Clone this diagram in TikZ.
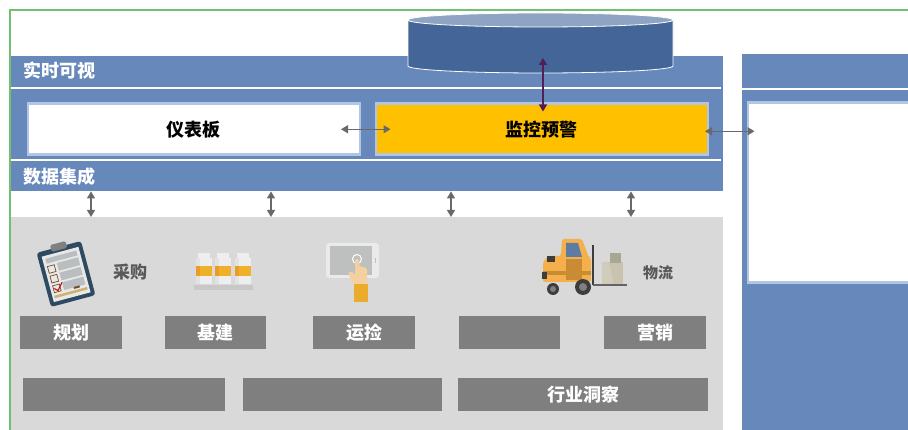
\documentclass[tikz,border=0pt]{standalone}
\usepackage{fontspec}
\newfontfamily\cjk{Noto Sans CJK SC}
\usetikzlibrary{arrows.meta}

\definecolor{frameg}{RGB}{112,192,112}
\definecolor{panelb}{RGB}{103,136,187}
\definecolor{edgeb}{RGB}{178,198,228}
\definecolor{dbtop}{RGB}{143,163,194}
\definecolor{dbbody}{RGB}{67,101,151}
\definecolor{warn}{RGB}{255,192,0}
\definecolor{appbg}{RGB}{217,217,217}
\definecolor{tagg}{RGB}{127,127,127}
\definecolor{arrowg}{RGB}{105,105,105}
\definecolor{dbarrow}{RGB}{82,30,84}
\definecolor{noteg}{RGB}{89,89,89}
% icon colours
\definecolor{clipnavy}{RGB}{46,74,98}
\definecolor{paper}{RGB}{232,232,232}
\definecolor{rowg}{RGB}{186,190,192}
\definecolor{strip}{RGB}{205,178,110}
\definecolor{milk}{RGB}{238,238,238}
\definecolor{milkshade}{RGB}{226,226,226}
\definecolor{band}{RGB}{240,176,42}
\definecolor{bandshade}{RGB}{232,158,36}
\definecolor{shelf}{RGB}{200,200,200}
\definecolor{screen}{RGB}{190,192,192}
\definecolor{skin}{RGB}{244,208,160}
\definecolor{sleeve}{RGB}{236,172,43}
\definecolor{lift}{RGB}{246,176,75}
\definecolor{liftdark}{RGB}{201,140,52}
\definecolor{cabwin}{RGB}{92,124,163}
\definecolor{tire}{RGB}{61,61,61}
\definecolor{crate}{RGB}{200,195,174}

\tikzset{
  cjkbold/.style={font=\cjk\bfseries\fontsize{18}{22}\selectfont},
  card/.style={cjkbold, draw=edgeb, line width=2.5pt, inner sep=0pt, anchor=north west},
  tagbox/.style={cjkbold, fill=tagg, text=white, inner sep=0pt, minimum height=33pt, anchor=north west},
  bartitle/.style={cjkbold, text=white, anchor=west},
  note/.style={font=\cjk\bfseries\fontsize{17}{20}\selectfont, text=noteg},
  biarrow/.style={arrowg, line width=1.3pt, {Triangle[width=8pt,length=7pt]}-{Triangle[width=8pt,length=7pt]}},
}

\begin{document}
\begin{tikzpicture}[x=1pt,y=-1pt]
\clip (0,0) rectangle (908,430);
\fill[white] (0,0) rectangle (908,430);

% layers
\node[fill=panelb, inner sep=0pt, anchor=north west, minimum width=713pt, minimum height=135pt] (vis) at (10,56) {};
\node[fill=appbg, inner sep=0pt, anchor=north west, minimum width=713pt, minimum height=230pt] (apps) at (10,217) {};
\node[fill=panelb, inner sep=0pt, anchor=north west, minimum width=180pt, minimum height=390pt] (side) at (742,54) {};
\draw[white, line width=1.5pt] (10,88) -- (721,88);
\draw[white, line width=1.5pt] (10,160) -- (721,160);
\draw[white, line width=1.5pt] (742,89) -- (920,89);

\node[bartitle] (rtv) at (20,71) {实时可视};
\node[bartitle] (integ) at (20,177) {数据集成};

\node[card, fill=white, minimum width=332pt, minimum height=51pt] (dash) at (26.5,102.5) {仪表板};
\node[card, fill=warn, minimum width=332pt, minimum height=51pt] (warnbox) at (374.5,102.5) {监控预警};
\node[card, fill=white, minimum width=180pt, minimum height=180pt] (sidebox) at (746.5,101.5) {};

% database
\filldraw[fill=dbbody, draw=white, line width=0.8pt] (408,20) -- (408,66)
  arc[start angle=180, end angle=360, x radius=132.5pt, y radius=7pt] -- (673,20) -- cycle;
\filldraw[fill=dbtop, draw=white, line width=0.8pt] (540.5,20) ellipse[x radius=132.5pt, y radius=7pt];
\coordinate (dbport) at (543,58);

% links
\draw[biarrow, dbarrow] (dbport) -- ([yshift=-9pt]dbport |- warnbox.north);
\draw[biarrow] ([xshift=-20pt]dash.east) -- ([xshift=16pt]warnbox.west);
\draw[biarrow] ([xshift=-4pt,yshift=-2pt]warnbox.east) -- ([xshift=8pt,yshift=-2pt]warnbox.east -| sidebox.west);
\foreach \x in {91,271,451,631}
  \draw[biarrow] (\x,0 |- vis.south) -- (\x,0 |- apps.north);

% business tags
\node[tagbox, minimum width=102pt] (plan) at (20,316) {规划};
\node[tagbox, minimum width=101pt] (build) at (165,316) {基建};
\node[tagbox, minimum width=102pt] (ops) at (313,316) {运捡};
\node[tagbox, minimum width=101pt] (blank) at (459,316) {};
\node[tagbox, minimum width=102pt] (market) at (604,316) {营销};
\node[tagbox, minimum width=202pt] (wideA) at (23,378) {};
\node[tagbox, minimum width=199pt] (wideB) at (243,378) {};
\node[tagbox, minimum width=250pt] (insight) at (458,378) {行业洞察};

\node[note] (buy) at (130,272) {采购};
\node[note, font=\cjk\bfseries\fontsize{15}{18}\selectfont] (logi) at (658,273) {物流};

% clipboard
\begin{scope}[shift={(66,274)}, rotate=15]
  \fill[clipnavy, rounded corners=3pt] (-23,-28) rectangle (23,28);
  \fill[paper] (-19,-23) rectangle (19,24);
  \fill[gray, rounded corners=1.5pt] (-8,-32) rectangle (8,-25);
  \fill[rowg] (-16,-20) rectangle (16,-15);
  \foreach \y in {-12,-2,8} {
    \draw[brown!60!black, line width=0.7pt] (-16,\y) rectangle (-9,\y+7);
    \fill[rowg] (-6,\y-1) rectangle (16,\y+7);
  }
  \draw[red!80!black, line width=1pt] (-15,11) -- (-12,14) -- (-6,7);
  \fill[strip] (-17,18) rectangle (17,20.5);
  \fill[brown!60!black] (4,14.5) rectangle (10,16.5);
\end{scope}

% milk bottles
\foreach \x in {196,215,235} {
  \fill[milk] (\x+2,253) rectangle (\x+14,258);
  \fill[milk] (\x,258) rectangle (\x+16,284);
  \fill[milkshade] (\x,258) rectangle (\x+4,284);
  \fill[band] (\x,266) rectangle (\x+16,276);
  \fill[bandshade] (\x,266) rectangle (\x+4,276);
}
\fill[shelf] (194,285) rectangle (253,290);

% tablet
\fill[paper!90!white, rounded corners=3pt] (326,243) rectangle (379,278);
\fill[screen] (330,246) rectangle (372,275);
\fill[screen] (375,258) rectangle (376,263);
\draw[white, line width=1pt] (357,259) circle (4.5pt);
\fill[skin, rounded corners=1.5pt] (355,259) -- (359,259) -- (359,266) -- (367,268) -- (367,284)
  -- (353,284) -- (348,273) -- (351,271) -- (355,275) -- cycle;
\fill[sleeve] (354,284) rectangle (368,302);

% forklift
\fill[lift, rounded corners=2pt] (548,256) -- (561,256) -- (562,239) -- (582,239) -- (589,258)
  -- (591,258) -- (591,282) -- (543,282) -- (543,262) -- cycle;
\fill[cabwin] (566,243) -- (578,243) -- (582,257) -- (566,257) -- cycle;
\fill[liftdark] (566,259) rectangle (582,280);
\fill[liftdark] (543,271) rectangle (591,275);
\fill[tire] (547,256) rectangle (555,262);
\fill[tire] (542,272) rectangle (547,279);
\draw[tire, line width=2pt] (593,245) -- (593,285);
\draw[tire!80!white, line width=1.5pt] (593,285) -- (627,285);
\fill[crate] (602,262) rectangle (623,284);
\fill[crate!85!white] (602,262) -- (609,262) -- (614,284) -- (602,284) -- cycle;
\fill[crate!85!black] (610,253) rectangle (621,263);
\fill[tire] (553,289) circle (6pt);
\fill[gray] (553,289) circle (3pt);
\fill[tire] (583,287) circle (8pt);
\fill[gray] (583,287) circle (4pt);

% outer frame
\draw[frameg, line width=2pt] (9.7,10) rectangle (930,450);
\end{tikzpicture}
\end{document}
